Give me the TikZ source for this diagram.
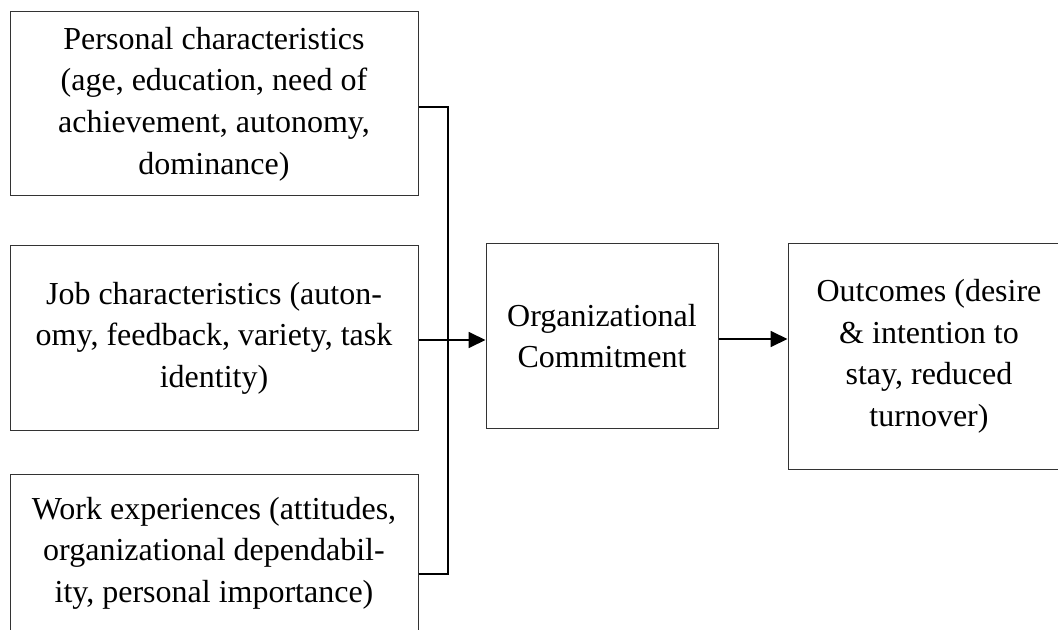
\documentclass[tikz,border=0pt]{standalone}
\usepackage{fontspec}
\setmainfont{Liberation Serif}
\usetikzlibrary{arrows.meta}
\tikzset{
  box/.style={draw=black!80,line width=0.5pt,align=center,inner sep=0pt,
    font=\fontsize{16}{20.8}\selectfont},
  link/.style={line width=0.9pt},
  tip/.style={-{Triangle[length=8.5pt,width=8pt]}}
}
\begin{document}
\begin{tikzpicture}[x=0.5pt,y=-0.5pt]
        \useasboundingbox(0,0)rectangle(1058,630);
        \clip(0,0)rectangle(1058,630);
        \node[box,minimum width=204pt,minimum height=92pt](pers)at(214,104)
          {Personal characteristics\\(age, education, need of\\achievement, autonomy,\\dominance)};
        \node[box,minimum width=204pt,minimum height=92pt](job)at(214,338)
          {Job characteristics (auton-\\omy, feedback, variety, task\\identity)};
        \node[box,minimum width=204pt,minimum height=79pt](work)at(214,553)
          {Work experiences (attitudes,\\organizational dependabil-\\ity, personal importance)};
        \node[box,minimum width=116pt,minimum height=92pt](org)at(602,336)
          {Organizational\\Commitment};
        \node[box,minimum width=141pt,minimum height=112.5pt](out)at(929,356.5)
          {Outcomes (desire\\\& intention to\\stay, reduced\\turnover)};
        \coordinate(J)at(448,340);
        \draw[link]([yshift=-1.5pt]pers.east)-|(J);
        \draw[link]([yshift=-10.5pt]work.east)-|(J);
        \draw[link,tip]([yshift=-1pt]job.east)--([yshift=-1pt]job.east-|org.west);
        \draw[link,tip]([yshift=-1.5pt]org.east)--([yshift=-1.5pt]org.east-|out.west);
    \end{tikzpicture}
\end{document}
